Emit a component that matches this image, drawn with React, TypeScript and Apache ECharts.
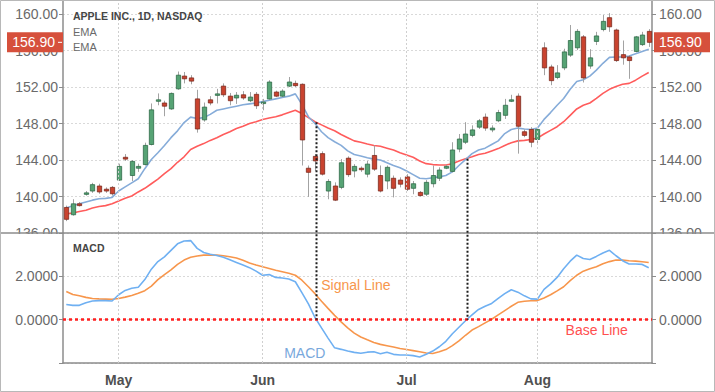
import React, { useEffect, useRef } from "react";
import * as echarts from "echarts";

// ---------- data ----------
const tradingDays: [string, number[]][] = [
  ["04", [19, 20, 21, 24, 25, 26, 27, 28]],
  ["05", [1, 2, 3, 4, 5, 8, 9, 10, 11, 12, 15, 16, 17, 18, 19, 22, 23, 24, 25, 26, 30, 31]],
  ["06", [1, 2, 5, 6, 7, 8, 9, 12, 13, 14, 15, 16, 19, 20, 21, 22, 23, 26, 27, 28, 29, 30]],
  ["07", [3, 5, 6, 7, 10, 11, 12, 13, 14, 17, 18, 19, 20, 21, 24, 25, 26, 27, 28, 31]],
  ["08", [1, 2, 3, 4, 7, 8, 9, 10, 11, 14, 15, 16, 17, 18, 21, 22, 23, 24]],
];
const monthNames: Record<string, string> = { "05": "May", "06": "Jun", "07": "Jul", "08": "Aug" };

const candleOpen = [
  138.8, 138.0, 139.2, 140.25, 140.6, 141.15, 140.8, 141.0, 141.8, 144.3,
  142.3, 143.1, 143.5, 145.7, 150.45, 150.25, 149.6, 151.8, 153.2, 153.0,
  150.7, 148.4, 150.6, 151.15, 152.1, 151.0, 150.8, 151.15, 150.5, 151.2,
  150.2, 150.7, 151.45, 151.0, 152.1, 152.4, 152.3, 143.1, 144.4, 144.7,
  140.6, 141.15, 141.0, 144.2, 142.8, 143.1, 142.45, 144.5, 142.3, 141.7,
  142.0, 141.8, 142.15, 140.9, 140.45, 140.25, 141.4, 142.0, 143.1, 142.75,
  145.2, 145.95, 146.7, 147.6, 148.7, 147.3, 148.3, 148.9, 150.45, 151.0,
  147.1, 147.35, 146.25, 156.3, 154.2, 153.05, 154.1, 155.5, 156.3, 157.5,
  154.3, 157.0, 158.3, 159.6, 158.25, 155.55, 155.3, 155.9, 156.65, 158.1,
];
const candleClose = [
  137.5, 139.2, 139.0, 140.4, 141.3, 140.5, 140.6, 140.3, 143.3, 144.1,
  143.85, 143.3, 145.6, 149.5, 150.6, 149.9, 151.3, 153.3, 152.9, 152.65,
  147.4, 149.8, 150.25, 151.25, 151.15, 150.5, 151.1, 150.8, 150.9, 149.95,
  150.35, 152.55, 151.0, 151.55, 152.55, 152.15, 146.2, 142.65, 143.9, 142.45,
  141.65, 139.6, 143.7, 142.4, 143.3, 142.95, 143.55, 143.0, 140.6, 143.2,
  140.9, 141.35, 140.8, 141.4, 140.1, 141.55, 142.3, 142.9, 143.3, 145.1,
  146.3, 146.85, 147.3, 148.3, 147.5, 147.5, 149.2, 150.0, 150.6, 147.7,
  146.7, 145.95, 147.35, 154.1, 152.7, 153.55, 155.85, 157.1, 158.1, 153.0,
  155.2, 157.6, 159.2, 158.6, 154.9, 155.2, 154.9, 157.5, 157.7, 156.9,
];
const candleLow = [
  137.3, 137.9, 138.9, 140.1, 140.4, 140.3, 140.4, 140.1, 141.7, 143.9,
  141.7, 142.7, 143.4, 145.6, 150.0, 148.8, 149.5, 151.7, 152.4, 152.3,
  147.0, 148.2, 150.0, 150.2, 150.9, 150.0, 150.15, 150.6, 150.35, 149.6,
  149.45, 150.6, 150.9, 150.9, 152.0, 152.0, 143.4, 139.95, 142.8, 142.3,
  139.7, 139.5, 140.8, 142.15, 142.1, 142.7, 142.1, 142.8, 140.45, 140.8,
  139.9, 141.0, 140.6, 140.25, 140.0, 140.05, 141.0, 141.7, 143.0, 142.65,
  144.85, 145.75, 146.5, 147.4, 147.2, 147.05, 148.15, 148.5, 150.35, 144.7,
  146.5, 145.4, 145.75, 153.3, 152.2, 152.85, 153.85, 155.3, 156.05, 152.5,
  154.0, 156.6, 158.1, 158.05, 154.75, 154.45, 152.9, 155.8, 156.5, 156.4,
];
const candleHigh = [
  139.0, 139.7, 139.4, 140.6, 141.5, 141.4, 141.0, 141.15, 143.6, 144.65,
  144.0, 143.6, 145.9, 150.2, 151.3, 150.5, 151.4, 153.7, 153.65, 153.3,
  151.7, 150.3, 151.0, 151.8, 152.4, 151.35, 151.45, 151.55, 151.45, 151.45,
  150.7, 152.75, 151.6, 151.75, 153.1, 152.7, 152.4, 143.4, 144.65, 144.95,
  141.9, 141.55, 144.1, 144.4, 143.55, 143.3, 143.9, 145.6, 143.4, 143.4,
  142.3, 142.1, 142.45, 141.7, 140.6, 141.8, 143.4, 143.2, 143.5, 145.95,
  146.85, 148.15, 147.8, 148.5, 149.1, 147.8, 149.5, 150.7, 151.15, 151.3,
  147.35, 147.6, 147.6, 156.9, 154.45, 154.4, 156.2, 158.8, 158.35, 157.7,
  156.15, 158.05, 159.9, 160.1, 158.4, 157.1, 155.5, 157.6, 158.05, 158.35,
];
const emaFast = [
  138.75, 139.0, 139.2, 139.4, 139.6, 139.75, 139.8, 139.9, 140.6, 141.05,
  141.5, 141.95, 143.05, 144.05, 144.8, 145.6, 146.45, 147.2, 148.1, 148.7,
  148.55, 148.65, 149.0, 149.45, 149.6, 149.75, 149.9, 150.05, 150.15, 150.25,
  150.4, 150.55, 150.7, 150.85, 151.0, 151.25, 150.1, 148.75, 148.0, 147.1,
  146.45, 146.0, 145.6, 145.0, 144.6, 144.45, 144.25, 144.1, 144.0, 143.7,
  143.4, 143.15, 142.8, 142.4, 142.0, 141.95, 142.05, 142.15, 142.3, 142.7,
  143.4, 144.05, 144.7, 145.1, 145.3, 145.7, 146.1, 146.9, 147.35, 147.5,
  147.4, 147.35, 147.5, 148.45, 149.2, 150.0, 150.75, 151.75, 152.6, 152.8,
  153.2, 153.85, 154.6, 155.25, 155.3, 155.3, 155.4, 155.65, 155.9, 156.15,
];
const emaSlow = [
  138.1, 138.2, 138.35, 138.5, 138.75, 138.9, 139.0, 139.2, 139.5, 139.8,
  140.05, 140.5, 140.9, 141.4, 141.9, 142.5, 143.05, 143.75, 144.35, 145.15,
  145.5, 145.8, 146.15, 146.45, 146.8, 147.1, 147.45, 147.7, 148.0, 148.2,
  148.45, 148.6, 148.75, 148.95, 149.2, 149.45, 149.1, 148.65, 148.2, 147.85,
  147.5, 147.2, 146.8, 146.45, 146.1, 145.95, 145.75, 145.6, 145.5, 145.3,
  145.1, 144.8, 144.55, 144.3, 143.9, 143.6, 143.5, 143.45, 143.45, 143.6,
  143.9, 144.15, 144.35, 144.6, 144.75, 145.0, 145.25, 145.6, 145.9, 146.1,
  146.15, 146.25, 146.4, 146.85, 147.25, 147.65, 148.2, 148.9, 149.6, 150.0,
  150.25, 150.75, 151.3, 151.75, 152.05, 152.3, 152.4, 152.75, 153.2, 153.6,
];
const macdLine = [
  0.7, 0.66, 0.66, 0.78, 0.86, 0.88, 0.88, 0.86, 1.15, 1.35,
  1.45, 1.5, 1.85, 2.33, 2.68, 2.9, 3.2, 3.5, 3.63, 3.65,
  3.29, 3.1, 3.02, 2.96, 2.88, 2.76, 2.64, 2.52, 2.4, 2.24,
  2.05, 2.08, 1.95, 1.92, 1.88, 1.75, 1.25, 0.73, 0.1, -0.38,
  -0.85, -1.3, -1.37, -1.45, -1.51, -1.55, -1.5, -1.48, -1.57, -1.5,
  -1.6, -1.63, -1.63, -1.66, -1.72, -1.6, -1.45, -1.25, -1.0, -0.65,
  -0.35, -0.05, 0.22, 0.47, 0.62, 0.75, 0.98, 1.2, 1.38, 1.27,
  1.1, 0.96, 0.95, 1.4, 1.65, 1.95, 2.35, 2.7, 2.98, 2.82,
  2.78, 2.92, 3.08, 3.2, 2.95, 2.72, 2.57, 2.57, 2.55, 2.4,
];
const signalLine = [
  1.3, 1.16, 1.1, 1.03, 0.98, 0.96, 0.95, 0.94, 0.98, 1.04,
  1.12, 1.22, 1.34, 1.55, 1.85, 2.08, 2.3, 2.55, 2.75, 2.88,
  2.94, 2.98, 2.98, 2.98, 2.95, 2.9, 2.85, 2.74, 2.62, 2.52,
  2.44, 2.36, 2.28, 2.21, 2.14, 2.05, 1.82, 1.52, 1.2, 0.85,
  0.52, 0.2, -0.1, -0.38, -0.62, -0.8, -0.93, -1.05, -1.14, -1.2,
  -1.26, -1.33, -1.38, -1.43, -1.48, -1.54, -1.56, -1.48, -1.38, -1.2,
  -0.98, -0.72, -0.48, -0.32, -0.15, 0.02, 0.22, 0.42, 0.62, 0.8,
  0.85, 0.87, 0.88, 1.0, 1.15, 1.33, 1.52, 1.8, 2.05, 2.24,
  2.35, 2.44, 2.58, 2.68, 2.75, 2.75, 2.72, 2.7, 2.67, 2.64,
];
const lastClose = 156.9;
// crossover annotations: [fractional day index, price where EMAs cross]
const crossIndex = [38.1, 61.3];
const crossPrice = [148.15, 144.15];

// ---------- derived ----------
const dates: string[] = [];
tradingDays.forEach(([m, ds]) => ds.forEach((d) => dates.push(`2017-${m}-${String(d).padStart(2, "0")}`)));
const monthStarts: number[] = [];
dates.forEach((d, i) => {
  if (i > 0 && d.slice(5, 7) !== dates[i - 1].slice(5, 7)) monthStarts.push(i);
});
const startSet = new Set(monthStarts);

const FONT = "'Liberation Sans', Arial, Helvetica, sans-serif";
const AXIS = "#8c8c8c";
const GREEN = "#56a374";
const GREEN_EDGE = "#2f6b47";
const RED = "#c9432f";
const RED_EDGE = "#7c2a1d";
const TAG = "#d6503c";

export default function App() {
  const ref = useRef<HTMLDivElement>(null);
  useEffect(() => {
    document.body.style.margin = "0";
    if (!ref.current) return;
    const chart = echarts.init(ref.current, undefined, { renderer: "svg" });

    const isStart = (i: number) => startSet.has(i);
    const monthLines = {
      silent: true,
      symbol: "none",
      label: { show: false },
      lineStyle: { color: "#cfcfcf", type: [2, 2], width: 1 },
      data: monthStarts.map((i) => ({ xAxis: i })),
    };

    const priceAxis = (pos: "left" | "right") => ({
      type: "value",
      gridIndex: 0,
      position: pos,
      min: 136,
      max: 161.54,
      interval: 4,
      axisLine: { show: true, lineStyle: { color: AXIS, width: 1.5 } },
      axisTick: { show: true, length: 4, lineStyle: { color: AXIS } },
      axisLabel: {
        formatter: (v: number) => (Math.abs(v % 4) < 1e-6 ? v.toFixed(2) : ""),
        color: "#6a6a6a",
        fontSize: 14,
        fontFamily: FONT,
        margin: pos === "left" ? 5 : 7,
      },
      splitLine: { show: pos === "left", lineStyle: { color: "#d9d9d9", type: [2, 2] } },
    });
    const macdAxis = (pos: "left" | "right") => ({
      type: "value",
      gridIndex: 1,
      position: pos,
      min: -2,
      max: 4,
      interval: 2,
      axisLine: { show: true, lineStyle: { color: AXIS, width: 1.5 } },
      axisTick: { show: true, length: 4, lineStyle: { color: AXIS } },
      axisLabel: {
        formatter: (v: number) => (v === 0 || v === 2 ? v.toFixed(4) : ""),
        color: "#6a6a6a",
        fontSize: 14,
        fontFamily: FONT,
        margin: pos === "left" ? 5 : 7,
      },
      splitLine: { show: pos === "left", lineStyle: { color: "#d9d9d9", type: [2, 2] } },
    });

    const option: any = {
      animation: false,
      textStyle: { fontFamily: FONT },
      grid: [
        { left: 63, right: 63, top: 0, height: 233 },
        { left: 63, right: 63, top: 233, height: 130 },
      ],
      xAxis: [
        {
          type: "category",
          gridIndex: 0,
          data: dates,
          boundaryGap: true,
          axisLine: { show: false },
          axisTick: { show: false },
          axisLabel: { show: false },
          splitLine: { show: false },
        },
        {
          type: "category",
          gridIndex: 1,
          data: dates,
          boundaryGap: true,
          axisLine: { onZero: false, lineStyle: { color: AXIS, width: 1.5 } },
          axisTick: { alignWithLabel: true, interval: isStart, length: 5, lineStyle: { color: AXIS } },
          axisLabel: {
            interval: isStart,
            formatter: (v: string) => monthNames[v.slice(5, 7)] || "",
            color: "#505050",
            fontSize: 14,
            fontWeight: "bold",
            fontFamily: FONT,
            margin: 10,
          },
          splitLine: { show: false },
        },
      ],
      yAxis: [priceAxis("left"), priceAxis("right"), macdAxis("left"), macdAxis("right")],
      series: [
        {
          type: "line",
          name: "EMA slow",
          xAxisIndex: 0,
          yAxisIndex: 0,
          data: emaSlow,
          symbol: "none",
          z: 2,
          lineStyle: { color: "#ff5c5c", width: 1.6 },
          markLine: monthLines,
        },
        {
          type: "line",
          name: "EMA fast",
          xAxisIndex: 0,
          yAxisIndex: 0,
          data: emaFast,
          symbol: "none",
          z: 2,
          lineStyle: { color: "#86acd9", width: 1.6 },
        },
        {
          type: "custom",
          name: "AAPL",
          xAxisIndex: 0,
          yAxisIndex: 0,
          z: 3,
          data: dates.map((_, i) => [i, candleOpen[i], candleClose[i], candleLow[i], candleHigh[i]]),
          encode: { x: 0, y: [1, 2, 3, 4] },
          renderItem: (params: any, api: any) => {
            const i = api.value(0);
            const o = api.value(1);
            const c = api.value(2);
            const lo = api.value(3);
            const hi = api.value(4);
            const pHi = api.coord([i, hi]);
            const pLo = api.coord([i, lo]);
            const pTop = api.coord([i, Math.max(o, c)]);
            const pBot = api.coord([i, Math.min(o, c)]);
            const w = api.size([1, 0])[0] * 0.66;
            const x = Math.round(pHi[0]) + 0.5;
            const h = Math.max(pBot[1] - pTop[1], 1.5);
            const up = c >= o;
            return {
              type: "group",
              children: [
                {
                  type: "line",
                  shape: { x1: x, y1: pHi[1], x2: x, y2: pLo[1] },
                  style: { stroke: "#a3a3a3", lineWidth: 1 },
                },
                {
                  type: "rect",
                  shape: { x: x - w / 2, y: pTop[1], width: w, height: h },
                  style: { fill: up ? GREEN : RED, stroke: up ? GREEN_EDGE : RED_EDGE, lineWidth: 0.8 },
                },
              ],
            };
          },
        },
        {
          type: "line",
          name: "Signal",
          xAxisIndex: 1,
          yAxisIndex: 2,
          data: signalLine,
          symbol: "none",
          z: 3,
          lineStyle: { color: "#f7964c", width: 1.6 },
          markLine: monthLines,
        },
        {
          type: "line",
          name: "MACD",
          xAxisIndex: 1,
          yAxisIndex: 2,
          data: macdLine,
          symbol: "none",
          z: 3,
          lineStyle: { color: "#6fb0f2", width: 1.6 },
          markLine: {
            silent: true,
            symbol: "none",
            label: { show: false },
            lineStyle: { color: "#ff1f1f", type: [3, 3], width: 2.6 },
            data: [{ yAxis: 0 }],
          },
        },
      ],
    };
    chart.setOption(option);

    const xAt = (idx: number) => {
      const f = Math.floor(idx);
      const a = chart.convertToPixel({ xAxisIndex: 0 }, dates[f]) as number;
      const b = chart.convertToPixel({ xAxisIndex: 0 }, dates[Math.min(f + 1, dates.length - 1)]) as number;
      return a + (b - a) * (idx - f);
    };
    const yP = (v: number) => chart.convertToPixel({ yAxisIndex: 0 }, v) as number;
    const yM = (v: number) => chart.convertToPixel({ yAxisIndex: 2 }, v) as number;
    const sepY = yM(4);
    const leftX = 63;
    const rightX = 715 - 63;
    const tagY = yP(lastClose);

    const txt = (x: number, y: number, text: string, fill: string, size: number, weight = "normal", align = "left") => ({
      type: "text",
      x,
      y,
      z: 110,
      silent: true,
      style: {
        text,
        fill,
        fontSize: size,
        fontWeight: weight,
        fontFamily: FONT,
        textAlign: align,
        textVerticalAlign: "middle",
      },
    });

    const graphics: any[] = [
      { type: "rect", z: 100, silent: true, shape: { x: 0, y: sepY + 1, width: leftX - 1, height: 10 }, style: { fill: "#ffffff" } },
      { type: "rect", z: 100, silent: true, shape: { x: rightX + 1, y: sepY + 1, width: 715 - rightX, height: 10 }, style: { fill: "#ffffff" } },
      { type: "line", z: 101, silent: true, shape: { x1: 0, y1: sepY, x2: 715, y2: sepY }, style: { stroke: AXIS, lineWidth: 1.5 } },
      { type: "rect", z: 120, silent: true, shape: { x: 0.5, y: 0.5, width: 714, height: 391 }, style: { fill: "none", stroke: "#b8b8b8", lineWidth: 1 } },
    ];
    crossIndex.forEach((ci, k) => {
      const x = Math.round(xAt(ci)) + 0.5;
      graphics.push({
        type: "line",
        z: 105,
        silent: true,
        shape: { x1: x, y1: yP(crossPrice[k]), x2: x, y2: yM(0) },
        style: { stroke: "#1e1e1e", lineWidth: 2, lineDash: [2, 2] },
      });
    });
    graphics.push(
      txt(73, 16, "APPLE INC., 1D, NASDAQ", "#454545", 10.5, "bold"),
      txt(73, 31.5, "EMA", "#6a6a6a", 11),
      txt(73, 46.5, "EMA", "#6a6a6a", 11),
      txt(73, 248, "MACD", "#454545", 10.5, "bold"),
      txt(xAt(38.95), yM(1.58), "Signal Line", "#f7964c", 14),
      txt(xAt(33.3), yM(-1.53), "MACD", "#79a8dc", 14),
      txt(xAt(76.3), yM(-0.47), "Base Line", "#ff4f4f", 14),
      { type: "rect", z: 108, silent: true, shape: { x: 7, y: tagY - 10, width: leftX - 7, height: 20 }, style: { fill: TAG } },
      { type: "line", z: 109, silent: true, shape: { x1: 58, y1: tagY, x2: 62, y2: tagY }, style: { stroke: "#ffffff", lineWidth: 1 } },
      txt(55, tagY, lastClose.toFixed(2), "#ffffff", 14, "normal", "right"),
      { type: "rect", z: 108, silent: true, shape: { x: rightX + 2, y: tagY - 10, width: 56, height: 20 }, style: { fill: TAG } },
      txt(rightX + 7, tagY, lastClose.toFixed(2), "#ffffff", 14)
    );
    chart.setOption({ graphic: graphics });

    return () => chart.dispose();
  }, []);
  return <div ref={ref} style={{ width: 715, height: 392 }} />;
}
